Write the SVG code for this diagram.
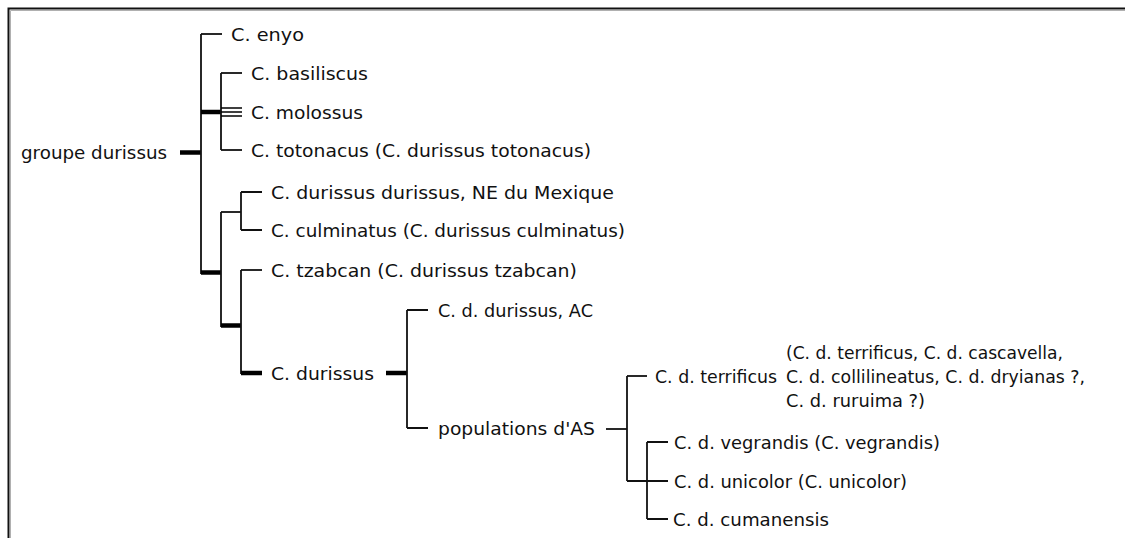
<svg xmlns="http://www.w3.org/2000/svg" width="1125" height="538" viewBox="0 0 1125 538">
<style>
text{font-family:"DejaVu Sans","Liberation Sans",sans-serif;font-size:17.5px;fill:#111}
.ln{stroke:#111;stroke-width:1.8;fill:none}
.tk{stroke:#000;stroke-width:4.5;fill:none}
.th{stroke:#000;stroke-width:1.3;fill:none}
</style>
<rect x="0" y="0" width="1125" height="538" fill="#fff"/>
<g id="frame">
<path d="M8.5,538 V8.5 H1125" stroke="#111" stroke-width="2" fill="none"/>
<path d="M10.5,538 V10.5 H1125" stroke="#b0b0b0" stroke-width="1" fill="none"/>
</g>
<g id="connectors">
<path class="tk" d="M180,152.5 H201"/>
<path class="ln" d="M201,34 V274"/>
<path class="ln" d="M201,34 H222"/>
<path class="tk" d="M201,112 H221"/>
<path class="ln" d="M221,73 V150"/>
<path class="ln" d="M221,73 H242"/>
<path class="th" d="M221,108 H242 M221,112 H242 M221,116 H242"/>
<path class="ln" d="M221,150 H242"/>
<path class="tk" d="M201,272.5 H221"/>
<path class="ln" d="M221,212 V327"/>
<path class="ln" d="M221,212 H241"/>
<path class="ln" d="M241,192 V230"/>
<path class="ln" d="M241,192 H262 M241,230 H262"/>
<path class="tk" d="M221,325.5 H241"/>
<path class="ln" d="M241,270 V374"/>
<path class="ln" d="M241,270 H262"/>
<path class="tk" d="M241,373 H262"/>
<path class="tk" d="M386,373 H407"/>
<path class="ln" d="M407,310 V428"/>
<path class="ln" d="M407,310 H428 M407,428 H428"/>
<path class="ln" d="M606,429 H627"/>
<path class="ln" d="M627,376 V481"/>
<path class="ln" d="M627,376 H647"/>
<path class="ln" d="M627,481 H668"/>
<path class="ln" d="M647,442 V519"/>
<path class="ln" d="M647,442 H668 M647,519 H668"/>
</g>
<g id="groupe-durissus"><text x="21" y="159" textLength="146" lengthAdjust="spacingAndGlyphs">groupe durissus</text></g>
<g id="c-enyo"><text x="231" y="41" textLength="73" lengthAdjust="spacingAndGlyphs">C. enyo</text></g>
<g id="c-basiliscus"><text x="251" y="80" textLength="117" lengthAdjust="spacingAndGlyphs">C. basiliscus</text></g>
<g id="c-molossus"><text x="251" y="119" textLength="112" lengthAdjust="spacingAndGlyphs">C. molossus</text></g>
<g id="c-totonacus"><text x="251" y="157" textLength="340" lengthAdjust="spacingAndGlyphs">C. totonacus (C. durissus totonacus)</text></g>
<g id="c-durissus-durissus"><text x="271" y="199" textLength="343" lengthAdjust="spacingAndGlyphs">C. durissus durissus, NE du Mexique</text></g>
<g id="c-culminatus"><text x="271" y="237" textLength="354" lengthAdjust="spacingAndGlyphs">C. culminatus (C. durissus culminatus)</text></g>
<g id="c-tzabcan"><text x="271" y="277" textLength="306" lengthAdjust="spacingAndGlyphs">C. tzabcan (C. durissus tzabcan)</text></g>
<g id="c-durissus"><text x="271" y="380" textLength="103" lengthAdjust="spacingAndGlyphs">C. durissus</text></g>
<g id="c-d-durissus-ac"><text x="438" y="317" textLength="155" lengthAdjust="spacingAndGlyphs">C. d. durissus, AC</text></g>
<g id="populations-as"><text x="438" y="435" textLength="157" lengthAdjust="spacingAndGlyphs">populations d'AS</text></g>
<g id="c-d-terrificus">
<text x="655" y="383" textLength="122" lengthAdjust="spacingAndGlyphs">C. d. terrificus</text>
<text x="786" y="359" textLength="277" lengthAdjust="spacingAndGlyphs">(C. d. terrificus, C. d. cascavella,</text>
<text x="786" y="383" textLength="299" lengthAdjust="spacingAndGlyphs">C. d. collilineatus, C. d. dryianas ?,</text>
<text x="786" y="407" textLength="139" lengthAdjust="spacingAndGlyphs">C. d. ruruima ?)</text>
</g>
<g id="c-d-vegrandis"><text x="674" y="449" textLength="266" lengthAdjust="spacingAndGlyphs">C. d. vegrandis (C. vegrandis)</text></g>
<g id="c-d-unicolor"><text x="674" y="488" textLength="233" lengthAdjust="spacingAndGlyphs">C. d. unicolor (C. unicolor)</text></g>
<g id="c-d-cumanensis"><text x="673" y="526" textLength="156" lengthAdjust="spacingAndGlyphs">C. d. cumanensis</text></g>
</svg>
